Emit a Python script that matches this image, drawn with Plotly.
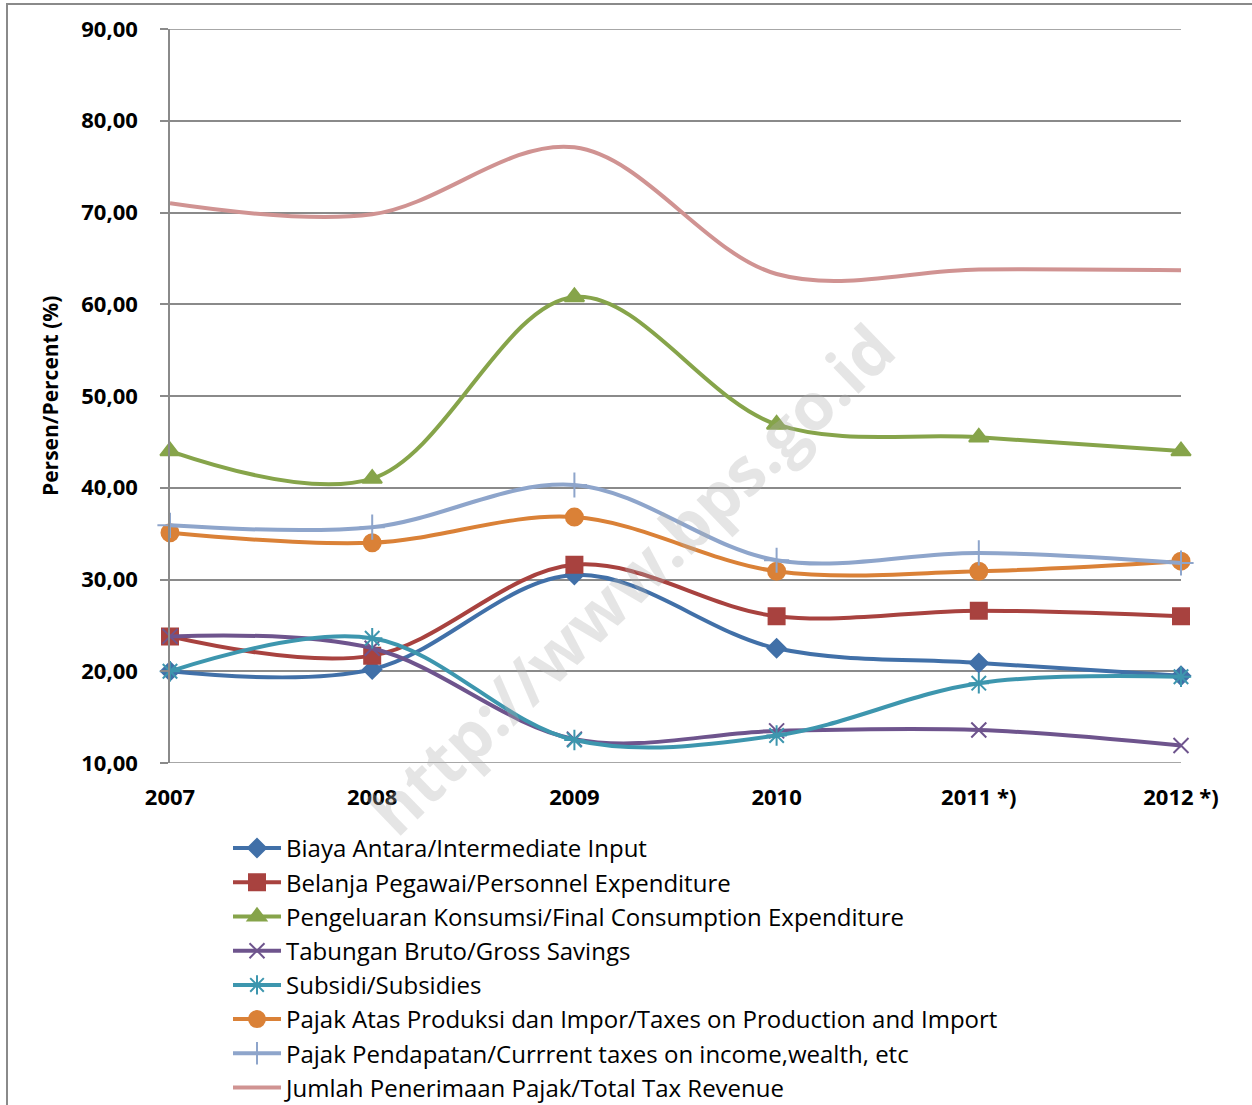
import plotly.graph_objects as go

years = [2007, 2008, 2009, 2010, 2011, 2012]
year_labels = ["2007", "2008", "2009", "2010", "2011 *)", "2012 *)"]

biaya_antara = [20.0, 20.2, 30.5, 22.5, 20.9, 19.5]
belanja_pegawai = [23.8, 21.7, 31.6, 26.0, 26.6, 26.0]
pengeluaran_konsumsi = [44.0, 41.0, 60.8, 46.9, 45.5, 44.0]
tabungan_bruto = [23.8, 22.5, 12.6, 13.5, 13.6, 11.9]
subsidi = [20.0, 23.6, 12.5, 13.0, 18.7, 19.4]
pajak_produksi = [35.1, 34.0, 36.8, 30.9, 30.9, 32.0]
pajak_pendapatan = [35.9, 35.7, 40.3, 32.1, 32.9, 31.8]
jumlah_pajak = [71.0, 69.8, 77.1, 63.3, 63.8, 63.7]

y_ticks = [10, 20, 30, 40, 50, 60, 70, 80, 90]
y_tick_labels = ["10,00", "20,00", "30,00", "40,00", "50,00", "60,00", "70,00", "80,00", "90,00"]

series_names = [
    "Biaya Antara/Intermediate Input",
    "Belanja Pegawai/Personnel Expenditure",
    "Pengeluaran Konsumsi/Final Consumption Expenditure",
    "Tabungan Bruto/Gross Savings",
    "Subsidi/Subsidies",
    "Pajak Atas Produksi dan Impor/Taxes on Production and Import",
    "Pajak Pendapatan/Currrent taxes on income,wealth, etc",
    "Jumlah Penerimaan Pajak/Total Tax Revenue",
]
series_values = [biaya_antara, belanja_pegawai, pengeluaran_konsumsi, tabungan_bruto,
                 subsidi, pajak_produksi, pajak_pendapatan, jumlah_pajak]
colors = ["#4170A8", "#A8423F", "#86A44A", "#6E548D", "#3D96AE", "#DA8137", "#8EA5CB", "#D09392"]
symbols = ["diamond", "square", "triangle-up", "x-thin-open", "asterisk-open", "circle", "cross-thin-open", None]
sizes = [14, 16, 17, 15, 17, 17, 18, 0]

FONT = "'Open Sans', 'Noto Sans', sans-serif"

fig = go.Figure()
for i, (name, vals) in enumerate(zip(series_names, series_values)):
    if symbols[i] is None:
        mode = "lines"
        marker = None
    else:
        mode = "lines+markers"
        marker = dict(symbol=symbols[i], size=sizes[i], color=colors[i],
                      line=dict(color=colors[i], width=2))
    fig.add_trace(go.Scatter(
        x=years, y=vals, name=name, mode=mode,
        line=dict(color=colors[i], width=4, shape="spline", smoothing=1.0),
        marker=marker, cliponaxis=False, legendgroup=f"g{i}",
    ))

W, H = 1252, 1105
L, R, T, B = 170, 71, 29, 342
pw = W - L - R
ph = H - T - B

def px(xp):
    return (xp - L) / pw

def py(yp):
    return (H - B - yp) / ph

fig.update_layout(
    width=W, height=H,
    margin=dict(l=L, r=R, t=T, b=B, autoexpand=False),
    paper_bgcolor="white", plot_bgcolor="white",
    font=dict(family=FONT, color="black"),
    showlegend=True,
    legend=dict(
        x=px(228), y=py(826), xanchor="left", yanchor="top",
        font=dict(family=FONT, size=24, color="black"),
        tracegroupgap=0, itemwidth=48, bgcolor="rgba(0,0,0,0)",
    ),
    xaxis=dict(
        range=[2007, 2012], tickvals=years, ticktext=year_labels,
        showgrid=False, zeroline=False, showline=False, ticks="",
        tickfont=dict(family=FONT, size=22, color="black", weight="bold"),
        ticklabelstandoff=19,
    ),
    yaxis=dict(
        range=[10, 90], tickvals=y_ticks, ticktext=y_tick_labels,
        showgrid=True, gridcolor="#8a8a8a", gridwidth=1.5,
        zeroline=False, showline=True, linecolor="#8a8a8a", linewidth=1.5,
        ticks="outside", ticklen=8, tickcolor="#8a8a8a", tickwidth=1.5,
        tickfont=dict(family=FONT, size=22, color="black", weight="bold"),
        ticklabelstandoff=18,
    ),
)

# edge gridlines (plotly omits gridlines lying on the plot boundary)
for yv in (y_ticks[0], y_ticks[-1]):
    fig.add_shape(type="line", xref="paper", yref="y", x0=0, x1=1, y0=yv, y1=yv,
                  line=dict(color="#8a8a8a", width=1.5), layer="below")

fig.add_annotation(
    text="Persen/Percent (%)", xref="paper", yref="paper",
    x=px(50), y=0.5, xanchor="center", yanchor="middle",
    textangle=-90, showarrow=False,
    font=dict(family=FONT, size=21, color="black", weight="bold"),
)

fig.add_annotation(
    text="http://www.bps.go.id", xref="paper", yref="paper",
    x=px(630), y=py(578), xanchor="center", yanchor="middle",
    textangle=-44, showarrow=False,
    font=dict(family=FONT, size=66, color="rgba(175,175,175,0.32)", weight="bold"),
)

fig.add_shape(
    type="rect", xref="paper", yref="paper",
    x0=px(7), x1=px(1260), y0=py(1115), y1=py(4),
    line=dict(color="#8a8a8a", width=2), fillcolor="rgba(0,0,0,0)", layer="below",
)

fig.write_html("out.html")
